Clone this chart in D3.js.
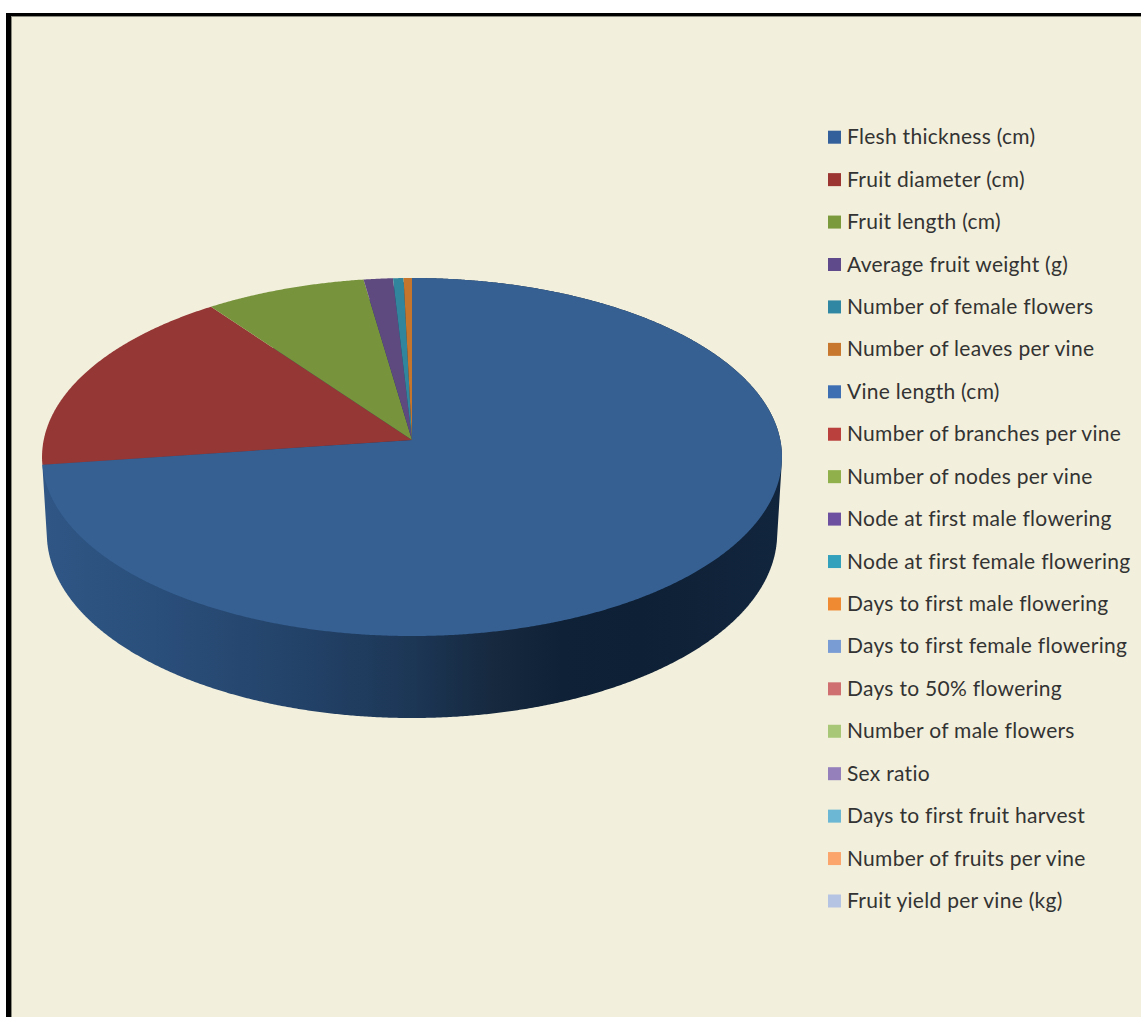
<!DOCTYPE html>
<html>
<head>
<meta charset="utf-8">
<script src="https://cdn.jsdelivr.net/npm/d3@7"></script>
<style>
html, body { margin: 0; padding: 0; background: #fff; }
svg { display: block; }
</style>
</head>
<body>
<svg id="chart" width="1141" height="1017"></svg>
<script>
// Share of each trait, clockwise from twelve o'clock
const traits = [
  "Flesh thickness (cm)", "Fruit diameter (cm)", "Fruit length (cm)",
  "Average fruit weight (g)", "Number of female flowers", "Number of leaves per vine",
  "Vine length (cm)", "Number of branches per vine", "Number of nodes per vine",
  "Node at first male flowering", "Node at first female flowering",
  "Days to first male flowering", "Days to first female flowering",
  "Days to 50% flowering", "Number of male flowers", "Sex ratio",
  "Days to first fruit harvest", "Number of fruits per vine", "Fruit yield per vine (kg)"
];
const shares = [72.8, 17.2, 7.7, 1.4, 0.5, 0.4, 0, 0, 0, 0, 0, 0, 0, 0, 0, 0, 0, 0, 0];
const sliceColors = ["#366092", "#953735", "#77933c", "#5f4a80", "#31859c", "#c5762c",
  "#3f6fb3", "#b9403c", "#8fb04a", "#6e50a0", "#33a0bc", "#f08a32", "#7a9cd4",
  "#d06f6f", "#a8c878", "#9580bb", "#6cb8d4", "#fba56c", "#b4c4e2"];
const keyColors = ["#335f9b", "#9b3532", "#7b9a3c", "#5f4a8b", "#2f87a3", "#c8782e",
  "#3f6fb3", "#b9403c", "#8fb04a", "#6e50a0", "#33a0bc", "#f08a32", "#7a9cd4",
  "#d06f6f", "#a8c878", "#9580bb", "#6cb8d4", "#fba56c", "#b4c4e2"];
const wallStops = [
  [40, "#2f5685"], [150, "#2a4f7b"], [300, "#234268"], [412, "#1c3655"],
  [490, "#16293f"], [560, "#0f2136"], [640, "#0e2035"], [780, "#11253d"]
];

const svg = d3.select("#chart");
const defs = svg.append("defs");

// Panel: cream ground with a heavy black edge on the top and left only
svg.append("rect").attr("x", 6).attr("y", 13).attr("width", 1135).attr("height", 1004).attr("fill", "#000");
svg.append("rect").attr("x", 11).attr("y", 16).attr("width", 1130).attr("height", 1001).attr("fill", "#8c8b80");
svg.append("rect").attr("x", 12).attr("y", 17).attr("width", 1129).attr("height", 1000).attr("fill", "#f2efdc");

// Tilted disc: a circle seen through a mild perspective divide
const centerX = 412, apexY = 440, radius = 368.3;
const persp = -0.095, spreadY = 135.6;
const wallDepth = 76, wallFlare = 6, wallTaper = 0.013;

function project(angle, r, z) {
  const u = r * Math.sin(angle), v = -r * Math.cos(angle);
  const w = 1 + persp * v;
  return [
    centerX + radius * (1 - wallTaper * z) * u / w,
    (apexY + spreadY * v) / w + z * (wallDepth + wallFlare * v)
  ];
}
function rim(a0, a1, z) {
  const n = Math.max(2, Math.ceil((a1 - a0) / 0.005));
  return d3.range(n + 1).map(i => project(a0 + (a1 - a0) * i / n, 1, z));
}

const arcs = d3.pie().sort(null).startAngle(0).endAngle(2 * Math.PI)(shares);
const line = d3.line().curve(d3.curveLinear);
const color = d3.scaleOrdinal(traits, sliceColors);
const keyColor = d3.scaleOrdinal(traits, keyColors);

// Horizontal shading of the wall
const wallX = d3.scaleLinear().domain([40, 780]).range([0, 1]);
const grad = defs.append("linearGradient").attr("id", "wall")
  .attr("gradientUnits", "objectBoundingBox").attr("x1", 0).attr("x2", 1).attr("y1", 0).attr("y2", 0);
grad.selectAll("stop").data(wallStops).join("stop")
  .attr("offset", d => wallX(d[0])).attr("stop-color", d => d[1]);

// Only the largest slice shows its outer wall from this viewpoint
const front = arcs[0];
const hull = d3.polygonHull(rim(front.startAngle, front.endAngle, 0)
  .concat(rim(front.startAngle, front.endAngle, 1)));
svg.append("path").attr("d", line(hull) + "Z").attr("fill", "url(#wall)");

// Top faces
svg.append("g").selectAll("path")
  .data(arcs.filter(d => d.value > 0))
  .join("path")
  .attr("d", d => line([[centerX, apexY]].concat(rim(d.startAngle, d.endAngle, 0))) + "Z")
  .attr("fill", d => color(traits[d.index]));

// Legend
const rowY = d3.scalePoint().domain(traits).range([137.2, 901]);
const rows = svg.append("g").selectAll("g").data(traits).join("g")
  .attr("transform", d => `translate(0,${rowY(d)})`);
rows.append("rect").attr("x", 828).attr("y", -6.5).attr("width", 13).attr("height", 13)
  .attr("fill", d => keyColor(d));
rows.append("text").attr("x", 847).attr("y", 7)
  .attr("font-family", "Lato, sans-serif").attr("font-size", 21)
  .attr("letter-spacing", 0.28)
  .attr("fill", "#333")
  .text(d => d);
</script>
</body>
</html>
